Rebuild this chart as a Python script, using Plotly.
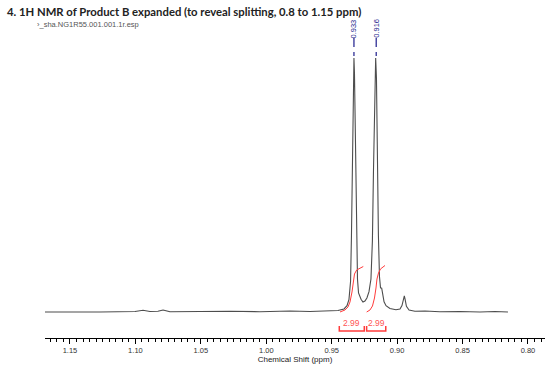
import plotly.graph_objects as go

# --- Data ---
spec_ppm = [1.1714, 1.1615, 1.1500, 1.1271, 1.1003, 1.0942, 1.0889, 1.0828, 1.0789, 1.0736,
            1.0507, 1.0277, 1.0048, 0.9819, 0.9666, 0.9513, 0.9452, 0.9406, 0.9383, 0.9368,
            0.9356, 0.9349, 0.9341, 0.9333, 0.9330, 0.9326, 0.9318, 0.9311, 0.9303, 0.9295,
            0.9288, 0.9276, 0.9261, 0.9246, 0.9231, 0.9215, 0.9200, 0.9189, 0.9181, 0.9170,
            0.9164, 0.9158, 0.9151, 0.9143, 0.9135, 0.9127, 0.9118, 0.9110, 0.9100, 0.9085,
            0.9055, 0.9009, 0.8978, 0.8963, 0.8952, 0.8945, 0.8939, 0.8929, 0.8909, 0.8864,
            0.8787, 0.8673, 0.8520, 0.8367, 0.8252, 0.8153]
spec_int = [0.0, 0.1, 0.0, 0.0, 0.2, 0.7, 0.2, 0.3, 0.8, 0.1,
            0.2, 0.3, 0.1, 0.4, 0.2, 0.3, 0.6, 1.2, 2.5, 5.0,
            12.0, 30.0, 62.0, 94.0, 100.0, 94.0, 62.0, 28.0, 13.0, 7.5,
            6.3, 5.0, 3.9, 4.3, 5.5, 8.0, 13.0, 28.0, 55.0, 92.0,
            100.0, 92.0, 60.0, 30.0, 14.0, 9.5, 9.4, 7.0, 4.0, 2.5,
            1.4, 0.9, 1.2, 2.5, 5.0, 6.3, 5.0, 2.2, 0.8, 0.3,
            0.4, 0.1, 0.2, 0.0, 0.2, 0.0]

peak_ppm = [0.933, 0.916]
peak_labels = ["0.933", "0.916"]

int1_ppm = [0.94367, 0.93985, 0.93756, 0.93603, 0.93450, 0.93351, 0.93259, 0.93091, 0.92839, 0.92587]
int1_val = [0.0, 0.79, 1.97, 3.94, 7.87, 12.6, 14.96, 16.54, 17.32, 17.91]
int2_ppm = [0.92327, 0.92075, 0.91884, 0.91731, 0.91616, 0.91540, 0.91425, 0.91272, 0.90928]
int2_val = [0.0, 0.79, 2.36, 5.51, 9.45, 12.99, 15.35, 16.93, 18.31]

int_from = [0.9442, 0.9233]
int_to = [0.9251, 0.9087]
int_labels = ["2.99", "2.99"]

tick_vals = [1.15, 1.10, 1.05, 1.00, 0.95, 0.90, 0.85, 0.80]
tick_text = ["1.15", "1.10", "1.05", "1.00", "0.95", "0.90", "0.85", "0.80"]

title_text = "4. 1H NMR of Product B expanded (to reveal splitting, 0.8 to 1.15 ppm)"
file_text = "\u203a_sha.NG1R55.001.001.1r.esp"

RED = "#ff3b3b"
BLUE = "#1c1c8c"
FONT = "Liberation Sans, Arial, sans-serif"

fig = go.Figure()

fig.add_trace(go.Scatter(x=spec_ppm, y=spec_int, mode="lines", cliponaxis=False,
                         line=dict(color="#4d4d4d", width=1.1), hoverinfo="skip"))
for xs, ys in [(int1_ppm, int1_val), (int2_ppm, int2_val)]:
    fig.add_trace(go.Scatter(x=xs, y=ys, mode="lines",
                             line=dict(color=RED, width=1), hoverinfo="skip"))

# integral brackets
br_low, br_high = -7.5, -5.5
for a, b, lab in zip(int_from, int_to, int_labels):
    fig.add_trace(go.Scatter(x=[a, a, b, b], y=[br_high, br_low, br_low, br_high], mode="lines",
                             line=dict(color=RED, width=1.5), hoverinfo="skip"))
    fig.add_annotation(x=(a + b) / 2, y=-4.3, text=lab, showarrow=False,
                       font=dict(family=FONT, size=8.5, color="#ff5555"),
                       xanchor="center", yanchor="middle")

# peak labels
for p, lab in zip(peak_ppm, peak_labels):
    fig.add_annotation(x=p, y=111.6, text=lab, textangle=-90, showarrow=False,
                       font=dict(family=FONT, size=7.5, color=BLUE),
                       xanchor="center", yanchor="middle")
    fig.add_shape(type="line", x0=p, x1=p, y0=104.3, y1=107.9,
                  line=dict(color=BLUE, width=1.2))
    fig.add_shape(type="line", x0=p, x1=p, y0=100.8, y1=102.4,
                  line=dict(color=BLUE, width=1.2))

fig.update_layout(
    width=560, height=372,
    margin=dict(l=45, r=15, t=5, b=34),
    paper_bgcolor="white", plot_bgcolor="white",
    showlegend=False,
    xaxis=dict(range=[1.1691, 0.787], showgrid=False, zeroline=False,
               showline=True, linecolor="black", linewidth=1,
               ticks="outside", ticklen=5, tickcolor="black", tickwidth=1,
               tickvals=tick_vals, ticktext=tick_text,
               tickfont=dict(family=FONT, size=7.5, color="#333333"),
               minor=dict(dtick=0.005, tick0=0.8, ticks="outside", ticklen=3,
                          tickcolor="black", tickwidth=1, showgrid=False),
               title=dict(text="Chemical Shift (ppm)", standoff=2,
                          font=dict(family=FONT, size=8, color="#222222"))),
    yaxis=dict(range=[-10.24, 120.87], visible=False),
)

# title and file name placed in paper coordinates (plot area: x 45..545, y 5..338)
fig.add_annotation(x=(5 - 45) / 500, y=(333 - (12 - 5)) / 333, xref="paper", yref="paper",
                   xanchor="left", yanchor="middle", text="<b>" + title_text + "</b>", showarrow=False,
                   font=dict(family="Lato, sans-serif", size=11.3, color="#222222"))
fig.add_annotation(x=(35 - 45) / 500, y=(333 - (25 - 5)) / 333, xref="paper", yref="paper",
                   xanchor="left", yanchor="middle", text=file_text, showarrow=False,
                   font=dict(family=FONT, size=7.5, color="#555555"))

fig.write_html("out.html")
